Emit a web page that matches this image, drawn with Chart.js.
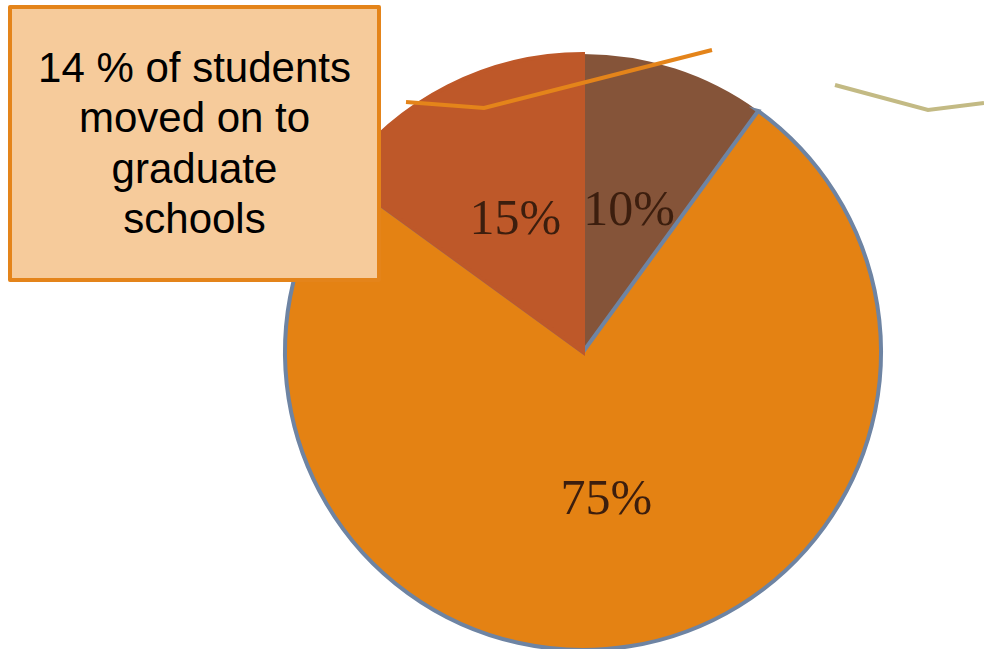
<!DOCTYPE html>
<html>
<head>
<meta charset="utf-8">
<script src="https://cdn.jsdelivr.net/npm/chart.js@4/dist/chart.umd.min.js"></script>
<style>
  html, body { margin: 0; padding: 0; background: #ffffff; overflow: hidden; width: 984px; height: 649px; }
  #wrap { position: absolute; left: 0; top: 0; width: 984px; height: 660px; }
  #callout {
    position: absolute; left: 8px; top: 5px; width: 365px; height: 269px;
    border: 4px solid #E4841A; border-radius: 2px; background: #F6CB9B;
    display: flex; align-items: center; justify-content: center; text-align: center;
    font-family: "Liberation Sans", Arial, sans-serif; font-size: 42px; line-height: 50.5px; color: #000;
  }
</style>
</head>
<body>
<div id="wrap"><canvas id="c"></canvas></div>
<div id="callout"><div>14 % of students<br>moved on to<br>graduate<br>schools</div></div>
<script>
// Data
const categories = ["Graduate schools", "Other", "Employed"];
const shares = [10, 75, 15];
const valueLabels = ["10%", "75%", "15%"];
const sliceColors = ["#855439", "#E48213", "#BE5829"];

// Decorative leader lines (offsets from pie centre, in px)
const leaderOrange = [[-177, -250], [-99, -244], [129, -302]];
const leaderOlive = [[252, -267], [345, -242], [401, -249]];

const labelPlugin = {
  id: 'valueLabels',
  afterDatasetsDraw(chart) {
    const ctx = chart.ctx;
    const meta = chart.getDatasetMeta(0);
    ctx.save();
    ctx.font = '50px "Liberation Serif", "Times New Roman", serif';
    ctx.fillStyle = '#3C1E0E';
    ctx.textAlign = 'center';
    ctx.textBaseline = 'middle';
    meta.data.forEach((arc, i) => {
      const p = arc.tooltipPosition();
      ctx.fillText(valueLabels[i], p.x, p.y + 2);
    });
    // leader lines
    const arc0 = meta.data[0];
    const cx = arc0.x, cy = arc0.y;
    const drawLine = (pts, color) => {
      ctx.beginPath();
      pts.forEach((p, j) => {
        if (j === 0) ctx.moveTo(cx + p[0], cy + p[1]); else ctx.lineTo(cx + p[0], cy + p[1]);
      });
      ctx.strokeStyle = color;
      ctx.lineWidth = 4;
      ctx.lineJoin = 'miter';
      ctx.stroke();
    };
    drawLine(leaderOrange, '#E4841A');
    drawLine(leaderOlive, '#C3BA84');
    ctx.restore();
  }
};

new Chart(document.getElementById('c'), {
  type: 'pie',
  data: {
    labels: categories,
    datasets: [{
      data: shares,
      backgroundColor: sliceColors,
      borderColor: ["rgba(0,0,0,0)", "#6E84A3", "#BE5829"],
      borderWidth: [0, 4, 4],
      borderAlign: 'center',
      borderJoinStyle: 'miter',
      hoverOffset: 0,
      offset: 0
    }]
  },
  options: {
    responsive: true,
    maintainAspectRatio: false,
    animation: false,
    events: [],
    layout: { padding: { top: 52, bottom: 8, left: 283, right: 101 } },
    plugins: {
      legend: { display: false },
      tooltip: { enabled: false },
      title: { display: false }
    }
  },
  plugins: [labelPlugin]
});
</script>
</body>
</html>
